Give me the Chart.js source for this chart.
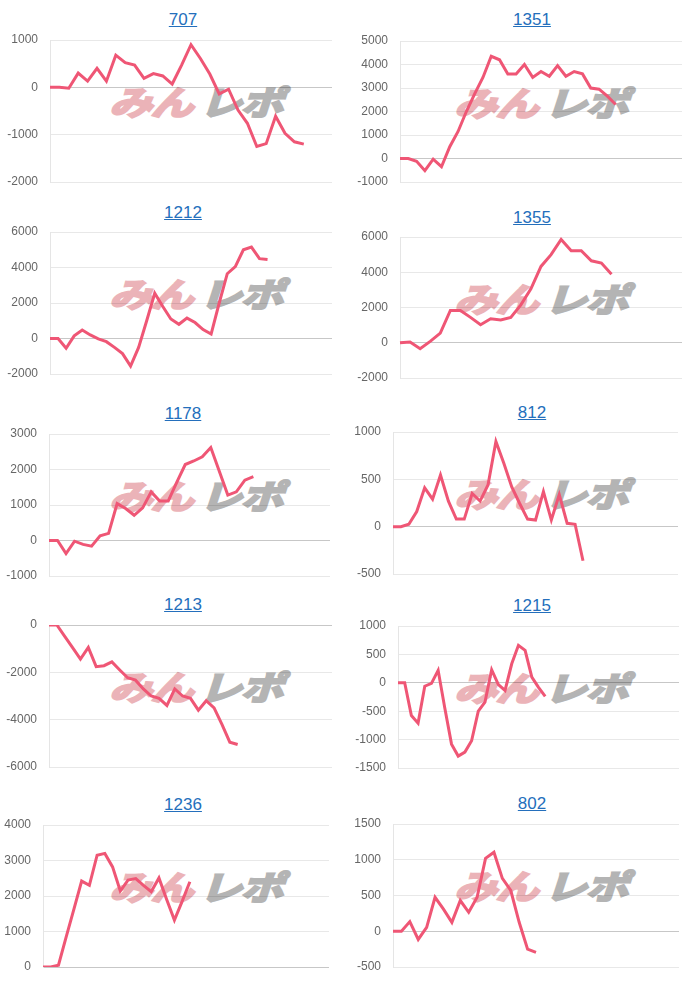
<!DOCTYPE html>
<html>
<head>
<meta charset="utf-8">
<script src="https://cdn.jsdelivr.net/npm/chart.js@4.4.1/dist/chart.umd.min.js"></script>
<style>
  body { margin: 0; background: #fff; font-family: "Liberation Sans", Arial, sans-serif; }
  #page { position: relative; width: 700px; height: 981px; overflow: hidden; }
  .title { position: absolute; transform: translate(-50%, -50%); font-size: 17px; color: #246fbc; text-decoration: underline; white-space: nowrap; }
  .box { position: absolute; }
  .mark { position: absolute; width: 180px; height: 32px; }
  .mark span { position: absolute; top: 0; width: 70px; display: block; font-family: "Noto Sans CJK JP", sans-serif; font-weight: 700; font-size: 35px; line-height: 32px; letter-spacing: -1px; transform-origin: 0 50%; transform: skewX(-18deg) scale(1.22, 0.95); white-space: nowrap; }
  .mark .pink { left: 0; color: #ebb3b8; -webkit-text-stroke: 2.5px #ebb3b8; }
  .mark .gray { left: 90px; color: #b4b4b4; -webkit-text-stroke: 2.5px #b4b4b4; }
</style>
</head>
<body>
<div id="page"></div>
<script>
// titles of the ten machines
const titles = ["707", "1351", "1212", "1355", "1178", "812", "1213", "1215", "1236", "802"];

// cumulative values per machine
const v707 = [0, 0, -20, 300, 130, 400, 130, 680, 520, 470, 190, 290, 240, 70, 470, 900, 610, 280, -140, -40, -480, -760, -1250, -1190, -610, -970, -1150, -1200];
const v1351 = [0, 0, -120, -520, -30, -350, 500, 1150, 2000, 2750, 3450, 4350, 4200, 3600, 3600, 4000, 3450, 3700, 3500, 3950, 3500, 3700, 3600, 3000, 2950, 2650, 2300];
const v1212 = [0, 0, -550, 150, 480, 200, -20, -180, -500, -850, -1550, -500, 1000, 2550, 1800, 1100, 800, 1150, 900, 500, 250, 2000, 3650, 4050, 5000, 5150, 4500, 4450];
const v1355 = [0, 40, -340, 80, 550, 1830, 1830, 1440, 1020, 1360, 1290, 1440, 2150, 3060, 4330, 5000, 5860, 5220, 5220, 4650, 4520, 3890];
const v1178 = [0, 0, -370, -20, -110, -160, 130, 200, 1040, 900, 710, 920, 1370, 1110, 1110, 1640, 2140, 2240, 2360, 2620, 1950, 1280, 1370, 1700, 1800];
const v812 = [0, 0, 25, 160, 410, 290, 545, 270, 80, 80, 350, 270, 440, 900, 670, 420, 245, 80, 70, 370, 70, 340, 35, 25, -360];
const v1213 = [0, 0, -480, -960, -1440, -950, -1760, -1720, -1560, -1900, -2230, -2330, -2700, -3000, -3100, -3400, -2700, -3000, -3100, -3600, -3200, -3500, -4200, -4950, -5050];
const v1215 = [0, 0, -575, -710, -60, -10, 220, -450, -1080, -1290, -1220, -1020, -500, -340, 230, -30, -135, 335, 660, 570, 100, -80, -240];
const v1236 = [0, 0, 50, 850, 1630, 2420, 2300, 3150, 3200, 2820, 2140, 2450, 2490, 2300, 2120, 2510, 1900, 1320, 1850, 2400];
const v802 = [0, 0, 135, -115, 55, 475, 310, 125, 430, 265, 475, 1020, 1105, 740, 570, 125, -250, -295];
const series = [v707, v1351, v1212, v1355, v1178, v812, v1213, v1215, v1236, v802];

// x slots on each axis (line stops before the right edge)
const slotCounts = [31, 35, 36, 29, 34, 37, 37, 43, 38, 35];

// y axis ticks
const yMin = [-2000, -1000, -2000, -2000, -1000, -500, -6000, -1500, 0, -500];
const yMax = [1000, 5000, 6000, 6000, 3000, 1000, 0, 1000, 4000, 1500];
const yStep = [1000, 1000, 2000, 2000, 1000, 500, 2000, 500, 1000, 500];

// layout: plot area [left, right, top, bottom], title centre y
const plots = [
  [50, 332, 40, 182], [400, 682, 41, 182],
  [50, 332, 232, 374], [400, 682, 237, 378],
  [49, 330, 434, 576], [393, 678, 432, 574],
  [49, 332, 625, 767], [398, 679, 626, 768],
  [43, 329, 825, 967], [393, 679, 824, 967]
];
const titleY = [20, 20, 213, 218, 414, 413, 605, 606, 805, 804];

const page = document.getElementById("page");
const PAD = 8;

titles.forEach((t, i) => {
  const right = i % 2 === 1;
  const colLeft = right ? 345 : 0;
  const [pl, pr, pt, pb] = plots[i];

  const a = document.createElement("a");
  a.className = "title";
  a.href = "#";
  a.textContent = t;
  a.style.left = (right ? 532 : 183) + "px";
  a.style.top = titleY[i] + "px";
  page.appendChild(a);

  const mark = document.createElement("div");
  mark.className = "mark";
  mark.style.left = (colLeft + 114) + "px";
  mark.style.top = (pt + 45) + "px";
  mark.innerHTML = '<span class="pink">みん</span><span class="gray">レポ</span>';
  page.appendChild(mark);

  const box = document.createElement("div");
  box.className = "box";
  const w = pr - colLeft;
  const h = pb - pt + PAD * 2;
  box.style.left = colLeft + "px";
  box.style.top = (pt - PAD) + "px";
  const canvas = document.createElement("canvas");
  canvas.width = w;
  canvas.height = h;
  box.appendChild(canvas);
  page.appendChild(box);

  const axisW = pl - colLeft;
  const labels = Array.from({ length: slotCounts[i] }, (_, k) => String(k));

  new Chart(canvas, {
    type: "line",
    data: {
      labels: labels,
      datasets: [{
        data: series[i],
        borderColor: "#ef5675",
        borderWidth: 3,
        pointRadius: 0,
        tension: 0,
        fill: false
      }]
    },
    options: {
      responsive: false,
      animation: false,
      layout: { padding: { top: PAD, bottom: PAD, left: 0, right: 0 } },
      plugins: { legend: { display: false }, tooltip: { enabled: false } },
      scales: {
        x: { display: false },
        y: {
          min: yMin[i],
          max: yMax[i],
          ticks: {
            stepSize: yStep[i],
            padding: 12,
            color: "#666",
            font: { size: 12, family: "'Liberation Sans', Arial, sans-serif" },
            callback: (v) => String(v)
          },
          grid: {
            drawTicks: false,
            color: (c) => (c.tick && c.tick.value === 0 ? "rgba(0,0,0,0.22)" : "rgba(0,0,0,0.09)")
          },
          border: { color: "rgba(0,0,0,0.1)" },
          afterFit: (s) => {
            s.width = axisW;
            s.paddingTop = 0;
            s.paddingBottom = 0;
          }
        }
      }
    }
  });
});
</script>
</body>
</html>
